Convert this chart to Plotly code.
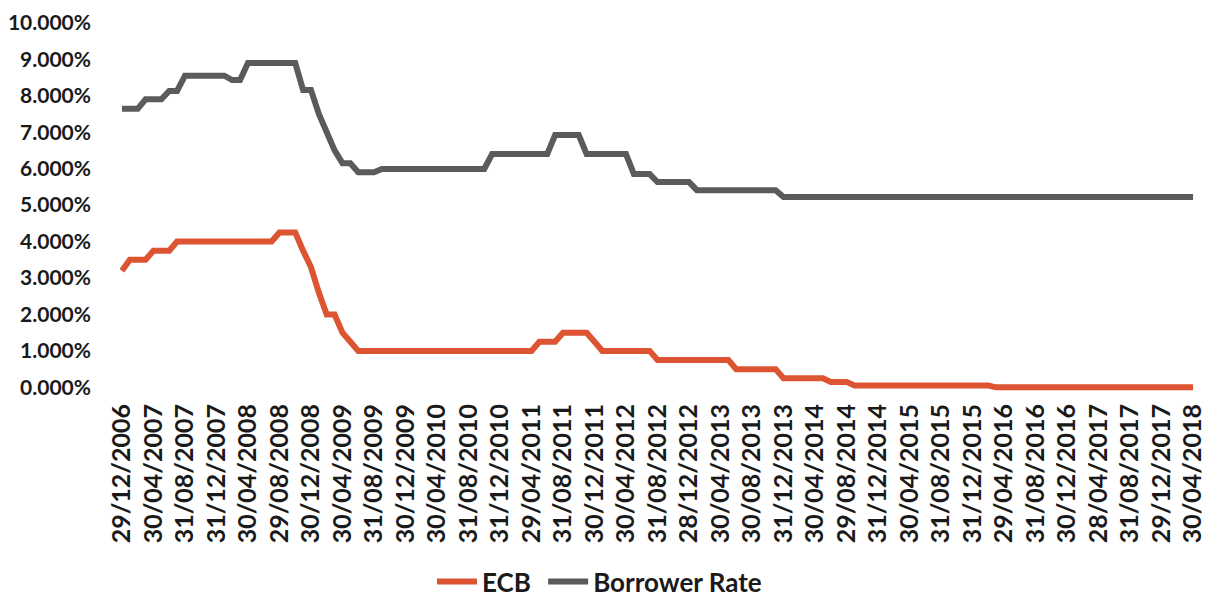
import plotly.graph_objects as go

# Month-end observations, Dec 2006 .. Apr 2018 (137 months), values in %
ecb = [
    3.2, 3.5, 3.5, 3.5, 3.75, 3.75, 3.75, 4.0, 4.0, 4.0, 4.0, 4.0,
    4.0, 4.0, 4.0, 4.0, 4.0, 4.0, 4.0, 4.0, 4.25, 4.25, 4.25, 3.75,
    3.3, 2.6, 2.0, 2.0, 1.5, 1.25, 1.0, 1.0, 1.0, 1.0, 1.0, 1.0,
    1.0, 1.0, 1.0, 1.0, 1.0, 1.0, 1.0, 1.0, 1.0, 1.0, 1.0, 1.0,
    1.0, 1.0, 1.0, 1.0, 1.0, 1.25, 1.25, 1.25, 1.5, 1.5, 1.5, 1.5,
    1.25, 1.0, 1.0, 1.0, 1.0, 1.0, 1.0, 1.0, 0.75, 0.75, 0.75, 0.75,
    0.75, 0.75, 0.75, 0.75, 0.75, 0.75, 0.5, 0.5, 0.5, 0.5, 0.5, 0.5,
    0.25, 0.25, 0.25, 0.25, 0.25, 0.25, 0.15, 0.15, 0.15, 0.05, 0.05, 0.05,
    0.05, 0.05, 0.05, 0.05, 0.05, 0.05, 0.05, 0.05, 0.05, 0.05, 0.05, 0.05,
    0.05, 0.05, 0.05, 0.0, 0.0, 0.0, 0.0, 0.0, 0.0, 0.0, 0.0, 0.0,
    0.0, 0.0, 0.0, 0.0, 0.0, 0.0, 0.0, 0.0, 0.0, 0.0, 0.0, 0.0,
    0.0, 0.0, 0.0, 0.0, 0.0,
]

borrower_rate = [
    7.64, 7.64, 7.64, 7.9, 7.9, 7.9, 8.13, 8.13, 8.55, 8.55, 8.55, 8.55,
    8.55, 8.55, 8.43, 8.43, 8.9, 8.9, 8.9, 8.9, 8.9, 8.9, 8.9, 8.16,
    8.16, 7.5, 7.0, 6.5, 6.15, 6.15, 5.9, 5.9, 5.9, 5.99, 5.99, 5.99,
    5.99, 5.99, 5.99, 5.99, 5.99, 5.99, 5.99, 5.99, 5.99, 5.99, 5.99, 6.4,
    6.4, 6.4, 6.4, 6.4, 6.4, 6.4, 6.4, 6.92, 6.92, 6.92, 6.92, 6.4,
    6.4, 6.4, 6.4, 6.4, 6.4, 5.85, 5.85, 5.85, 5.63, 5.63, 5.63, 5.63,
    5.63, 5.41, 5.41, 5.41, 5.41, 5.41, 5.41, 5.41, 5.41, 5.41, 5.41, 5.41,
    5.22, 5.22, 5.22, 5.22, 5.22, 5.22, 5.22, 5.22, 5.22, 5.22, 5.22, 5.22,
    5.22, 5.22, 5.22, 5.22, 5.22, 5.22, 5.22, 5.22, 5.22, 5.22, 5.22, 5.22,
    5.22, 5.22, 5.22, 5.22, 5.22, 5.22, 5.22, 5.22, 5.22, 5.22, 5.22, 5.22,
    5.22, 5.22, 5.22, 5.22, 5.22, 5.22, 5.22, 5.22, 5.22, 5.22, 5.22, 5.22,
    5.22, 5.22, 5.22, 5.22, 5.22,
]

tick_labels = [
    "29/12/2006", "30/04/2007", "31/08/2007", "31/12/2007", "30/04/2008",
    "29/08/2008", "30/12/2008", "30/04/2009", "31/08/2009", "30/12/2009",
    "30/04/2010", "31/08/2010", "31/12/2010", "29/04/2011", "31/08/2011",
    "30/12/2011", "30/04/2012", "31/08/2012", "28/12/2012", "30/04/2013",
    "30/08/2013", "31/12/2013", "30/04/2014", "29/08/2014", "31/12/2014",
    "30/04/2015", "31/08/2015", "31/12/2015", "29/04/2016", "31/08/2016",
    "30/12/2016", "28/04/2017", "31/08/2017", "29/12/2017", "30/04/2018",
]
tick_step = 4  # one label every 4 monthly observations

y_ticks = [0, 1, 2, 3, 4, 5, 6, 7, 8, 9, 10]

months = list(range(len(ecb)))
tick_positions = list(range(0, len(ecb), tick_step))

FONT = "Lato"
legend_font = dict(family=FONT, size=26, color="#1a1a1a", weight=700)

fig = go.Figure()
fig.add_trace(go.Scatter(
    x=months, y=ecb, mode="lines", name="ECB",
    line=dict(color="#DC5432", width=6), legend="legend",
))
fig.add_trace(go.Scatter(
    x=months, y=borrower_rate, mode="lines", name="Borrower Rate",
    line=dict(color="#5B5B5B", width=6), legend="legend2",
))

# the page places the figure 8px in from the top-left corner,
# so the figure is 8px smaller than the window
fig.update_layout(
    width=1209, height=593,
    margin=dict(l=110, r=20, t=13, b=210, autoexpand=False),
    paper_bgcolor="white", plot_bgcolor="white",
    showlegend=True,
    legend=dict(
        orientation="h", xanchor="left", x=0.291, yanchor="middle", y=-0.515,
        font=legend_font, bgcolor="rgba(0,0,0,0)", itemwidth=40,
    ),
    legend2=dict(
        orientation="h", xanchor="left", x=0.394, yanchor="middle", y=-0.515,
        font=legend_font, bgcolor="rgba(0,0,0,0)", itemwidth=40,
    ),
    xaxis=dict(
        range=[-0.5, len(ecb) - 0.5], automargin=False,
        tickmode="array", tickvals=tick_positions, ticktext=tick_labels,
        tickangle=-90, showgrid=False, zeroline=False, showline=False,
        ticks="", ticklabelstandoff=7, ticklabeloverflow="allow",
        tickfont=dict(family=FONT, size=25, color="#1a1a1a", weight=700),
    ),
    yaxis=dict(
        range=[-0.1, 10.05], automargin=False,
        tickmode="array", tickvals=y_ticks,
        ticktext=[f"{v:.3f}%" for v in y_ticks],
        showgrid=False, zeroline=False, showline=False,
        ticks="", ticklabelstandoff=26, ticklabeloverflow="allow",
        tickfont=dict(family=FONT, size=21, color="#1a1a1a", weight=700),
    ),
)

fig.write_html("out.html")
